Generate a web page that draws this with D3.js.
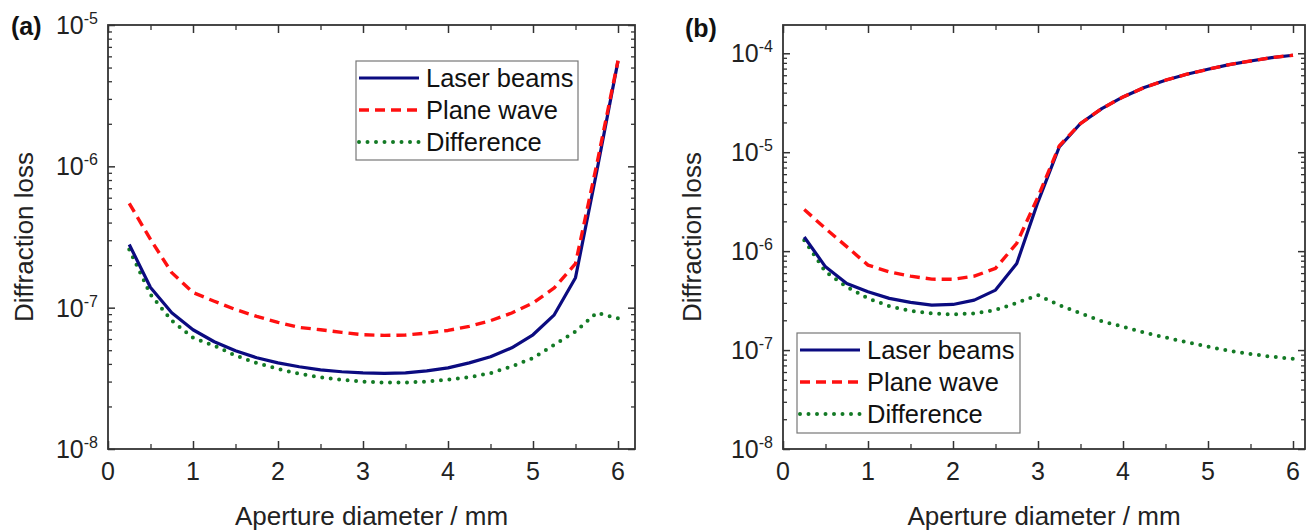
<!DOCTYPE html>
<html>
<head>
<meta charset="utf-8">
<script src="https://cdn.jsdelivr.net/npm/d3@7"></script>
<style>
  body { margin: 0; background: #fff; }
  svg { display: block; font-family: "Liberation Sans", Arial, sans-serif; }
</style>
</head>
<body>
<svg id="fig" width="1314" height="530"></svg>
<script>
// ─── DONNÉES ─────────────────────────────────────────────────────────────────
const aperture = [0.25, 0.5, 0.75, 1.0, 1.25, 1.5, 1.75, 2.0, 2.25, 2.5, 2.75, 3.0,
                  3.25, 3.5, 3.75, 4.0, 4.25, 4.5, 4.75, 5.0, 5.25, 5.5, 5.75, 6.0];

// panel (a)
const laserA = [2.80e-7, 1.39e-7, 9.2e-8, 6.98e-8, 5.74e-8, 4.95e-8, 4.42e-8, 4.07e-8,
                3.82e-8, 3.63e-8, 3.52e-8, 3.46e-8, 3.43e-8, 3.46e-8, 3.57e-8, 3.75e-8,
                4.07e-8, 4.49e-8, 5.20e-8, 6.43e-8, 8.9e-8, 1.63e-7, 9.2e-7, 5.55e-6];
const planeA = [5.47e-7, 3.04e-7, 1.77e-7, 1.28e-7, 1.11e-7, 9.7e-8, 8.67e-8, 7.87e-8,
                7.25e-8, 6.98e-8, 6.68e-8, 6.43e-8, 6.37e-8, 6.40e-8, 6.61e-8, 6.90e-8,
                7.37e-8, 8.09e-8, 9.17e-8, 1.08e-7, 1.38e-7, 2.05e-7, 1.03e-6, 5.6e-6];
const diffA  = [2.58e-7, 1.24e-7, 8.09e-8, 6.13e-8, 5.38e-8, 4.59e-8, 4.05e-8, 3.69e-8,
                3.40e-8, 3.22e-8, 3.09e-8, 3.0e-8, 2.95e-8, 2.95e-8, 3.0e-8, 3.09e-8,
                3.22e-8, 3.44e-8, 3.84e-8, 4.40e-8, 5.47e-8, 6.79e-8, 9.2e-8, 8.4e-8];

// panel (b)
const laserB = [1.39e-6, 6.94e-7, 4.72e-7, 3.88e-7, 3.33e-7, 3.03e-7, 2.85e-7, 2.89e-7,
                3.2e-7, 4.04e-7, 7.5e-7, 3.15e-6, 1.13e-5, 1.95e-5, 2.76e-5, 3.62e-5,
                4.51e-5, 5.34e-5, 6.14e-5, 6.89e-5, 7.68e-5, 8.36e-5, 9.04e-5, 9.55e-5];
const planeB = [2.64e-6, 1.69e-6, 1.11e-6, 7.22e-7, 6.18e-7, 5.59e-7, 5.21e-7, 5.19e-7,
                5.59e-7, 6.69e-7, 1.2e-6, 3.54e-6, 1.16e-5, 1.95e-5, 2.76e-5, 3.62e-5,
                4.51e-5, 5.34e-5, 6.14e-5, 6.89e-5, 7.68e-5, 8.36e-5, 9.04e-5, 9.55e-5];
const diffB  = [1.29e-6, 6.18e-7, 4.36e-7, 3.33e-7, 2.78e-7, 2.49e-7, 2.35e-7, 2.29e-7,
                2.35e-7, 2.54e-7, 3.0e-7, 3.59e-7, 2.85e-7, 2.35e-7, 1.96e-7, 1.72e-7,
                1.5e-7, 1.34e-7, 1.2e-7, 1.08e-7, 9.84e-8, 9.12e-8, 8.57e-8, 8.17e-8];

const seriesNames = ["Laser beams", "Plane wave", "Difference"];
const xTicks      = [0, 1, 2, 3, 4, 5, 6];
const xMinorTicks = [0.5, 1.5, 2.5, 3.5, 4.5, 5.5];
const yExpA = [-8, -7, -6, -5];
const yExpB = [-8, -7, -6, -5, -4];

// ─── STYLES DES SÉRIES ───────────────────────────────────────────────────────
const seriesStyle = {
    "Laser beams": { color: "#0b0b80", width: 3.2, dash: null, cap: "butt" },
    "Plane wave":  { color: "#ff1010", width: 3.4, dash: "10 6", cap: "butt" },
    "Difference":  { color: "#137a25", width: 4,   dash: "0 8.5", cap: "round" }
};
const drawOrder = ["Difference", "Laser beams", "Plane wave"];

const svg = d3.select("#fig");

function minorLogTicks(exps) {
    const out = [];
    for (let i = 0; i < exps.length - 1; i++) {
        for (let k = 2; k <= 9; k++) out.push(k * Math.pow(10, exps[i]));
    }
    return out;
}

// ─── UN PANNEAU ──────────────────────────────────────────────────────────────
function drawPanel(p) {
    const x = d3.scaleLinear().domain(p.xDomain).range([p.left, p.right]);
    const y = d3.scaleLog().domain(p.yDomain).range([p.bottom, p.top]);
    const W = p.right - p.left, H = p.bottom - p.top;

    const g = svg.append("g");
    const axisColor = "#333";

    // Lignes des courbes
    const line = d3.line().x(d => x(d[0])).y(d => y(d[1]));
    drawOrder.forEach(name => {
        const st = seriesStyle[name];
        const vals = p.series[name];
        g.append("path")
            .datum(aperture.map((a, i) => [a, vals[i]]))
            .attr("d", line)
            .attr("fill", "none")
            .attr("stroke", st.color)
            .attr("stroke-width", st.width)
            .attr("stroke-linecap", st.cap)
            .attr("stroke-linejoin", "round")
            .attr("stroke-dasharray", st.dash);
    });

    // Axes (ticks vers l'intérieur, sur les quatre côtés)
    const majY = p.yExp.map(e => Math.pow(10, e));
    const minY = minorLogTicks(p.yExp).filter(v => v <= p.yDomain[1]);

    const axes = [
        [d3.axisBottom(x), `translate(0,${p.bottom})`, -8, -5, xTicks, xMinorTicks],
        [d3.axisTop(x),    `translate(0,${p.top})`,    -8, -5, xTicks, xMinorTicks],
        [d3.axisLeft(y),   `translate(${p.left},0)`,   -7, -4, majY, minY],
        [d3.axisRight(y),  `translate(${p.right},0)`,  -7, -4, majY, minY]
    ];
    axes.forEach(([ax, tr, majLen, minLen, maj, min]) => {
        g.append("g").attr("transform", tr)
            .call(ax.tickValues(min).tickSize(minLen).tickFormat(""))
            .call(s => s.select(".domain").remove())
            .call(s => s.selectAll(".tick line").attr("stroke", axisColor).attr("stroke-width", 1.3));
        g.append("g").attr("transform", tr)
            .call(ax.tickValues(maj).tickSize(majLen).tickSizeOuter(0).tickFormat(""))
            .call(s => s.select(".domain").remove())
            .call(s => s.selectAll(".tick line").attr("stroke", axisColor).attr("stroke-width", 1.5));
    });

    // Cadre
    g.append("rect")
        .attr("x", p.left).attr("y", p.top)
        .attr("width", W).attr("height", H)
        .attr("fill", "none").attr("stroke", axisColor).attr("stroke-width", 1.8);

    // Étiquettes X
    g.selectAll(".xlab").data(xTicks).enter().append("text")
        .attr("x", d => x(d)).attr("y", p.bottom + 31)
        .attr("text-anchor", "middle")
        .style("font-size", "25px").style("fill", "#222")
        .text(d => d);

    // Étiquettes Y (10 avec exposant)
    p.yExp.forEach(e => {
        const t = g.append("text")
            .attr("x", p.left - 10).attr("y", y(Math.pow(10, e)) + 9)
            .attr("text-anchor", "end")
            .style("font-size", "25px").style("fill", "#222");
        t.append("tspan").text("10");
        t.append("tspan").attr("dy", -10).style("font-size", "16px").text(String(e));
    });

    // Titres des axes
    g.append("text")
        .attr("x", (p.left + p.right) / 2).attr("y", 525)
        .attr("text-anchor", "middle")
        .style("font-size", "26px").style("fill", "#222")
        .text("Aperture diameter / mm");
    g.append("text")
        .attr("transform", `translate(${p.yTitleX},${(p.top + p.bottom) / 2}) rotate(-90)`)
        .attr("text-anchor", "middle")
        .style("font-size", "26px").style("fill", "#222")
        .text("Diffraction loss");

    // Lettre du panneau
    g.append("text")
        .attr("x", p.labelX).attr("y", p.labelY)
        .style("font-size", "25px").style("font-weight", "bold").style("fill", "#111")
        .text(p.label);

    // Légende
    const L = p.legend;
    g.append("rect")
        .attr("x", L.x).attr("y", L.y).attr("width", L.w).attr("height", L.h)
        .attr("fill", "#fff").attr("stroke", "#777").attr("stroke-width", 1.2);
    seriesNames.forEach((name, i) => {
        const st = seriesStyle[name];
        const cy = L.y + 17 + i * 32;
        g.append("line")
            .attr("x1", L.x + 3).attr("x2", L.x + 63)
            .attr("y1", cy).attr("y2", cy)
            .attr("stroke", st.color).attr("stroke-width", st.width)
            .attr("stroke-linecap", st.cap)
            .attr("stroke-dasharray", st.dash);
        g.append("text")
            .attr("x", L.x + 70).attr("y", cy + 9)
            .style("font-size", "25.5px").style("fill", "#111")
            .text(name);
    });
}

drawPanel({
    label: "(a)", labelX: 11, labelY: 35,
    left: 108, right: 635, top: 25, bottom: 449,
    xDomain: [0, 6.2], yDomain: [1e-8, 1e-5], yExp: yExpA,
    yTitleX: 33,
    series: { "Laser beams": laserA, "Plane wave": planeA, "Difference": diffA },
    legend: { x: 356, y: 61, w: 222, h: 99 }
});

drawPanel({
    label: "(b)", labelX: 685, labelY: 37,
    left: 783, right: 1305, top: 25, bottom: 449,
    xDomain: [0, 522 / 85], yDomain: [1e-8, Math.pow(10, -4 + 28.3 / 99)], yExp: yExpB,
    yTitleX: 701,
    series: { "Laser beams": laserB, "Plane wave": planeB, "Difference": diffB },
    legend: { x: 797, y: 333, w: 223, h: 100 }
});
</script>
</body>
</html>
